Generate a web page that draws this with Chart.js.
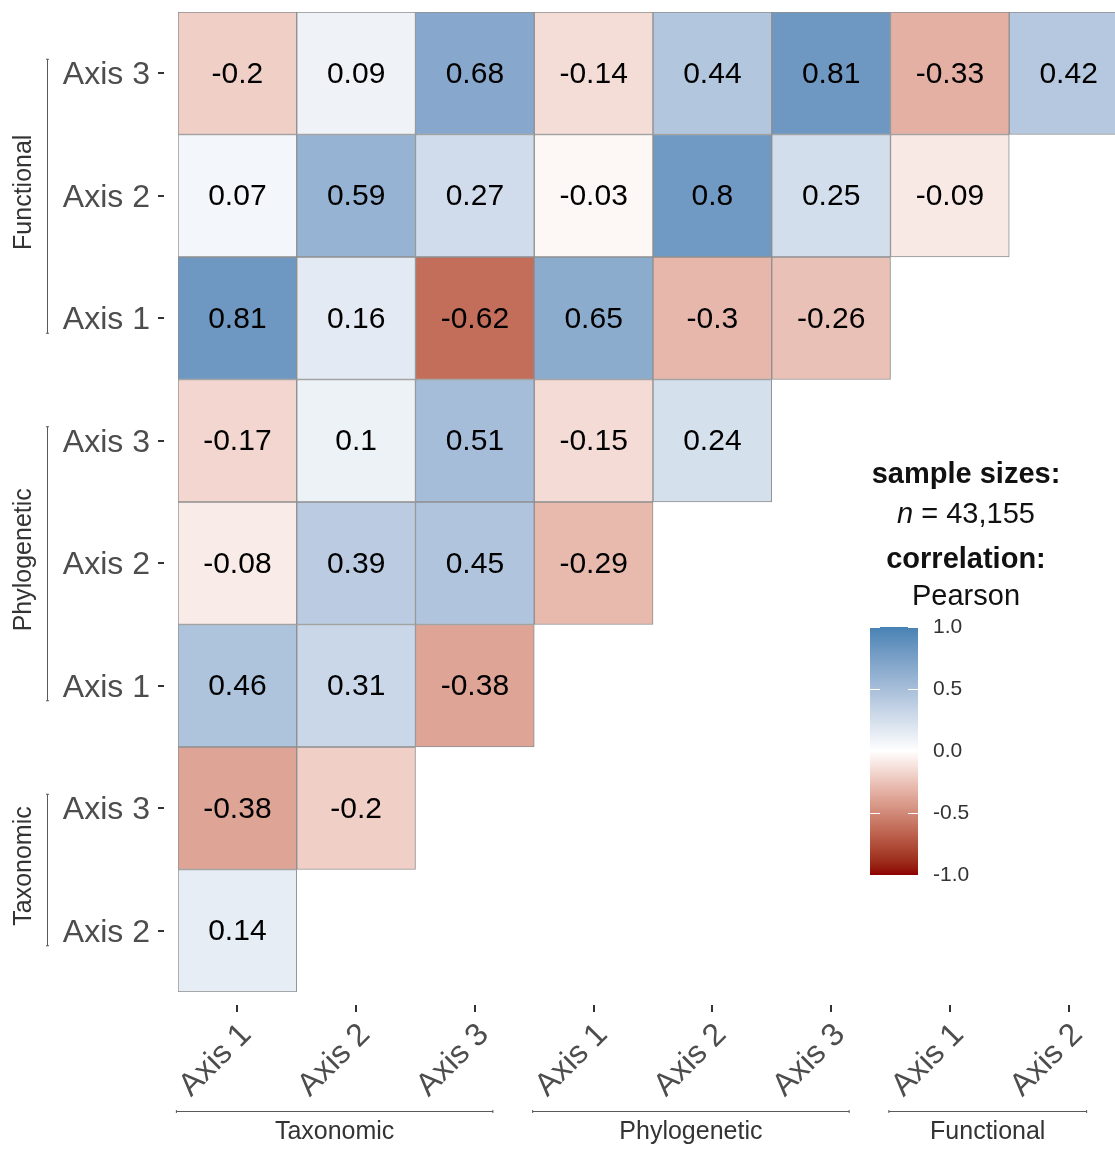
<!DOCTYPE html>
<html>
<head>
<meta charset="utf-8">
<script src="https://cdn.jsdelivr.net/npm/chart.js@4.4.1/dist/chart.umd.min.js"></script>
<style>
  html, body { margin: 0; padding: 0; background: #ffffff; overflow: hidden; }
  #wrap { position: relative; width: 1140px; height: 1152px; }
</style>
</head>
<body>
<div id="wrap"><canvas id="corr" width="1140" height="1152"></canvas></div>
<script>
// ---- data ----------------------------------------------------------------
const columnLabels = ['Axis 1', 'Axis 2', 'Axis 3', 'Axis 1', 'Axis 2', 'Axis 3', 'Axis 1', 'Axis 2'];
const columnGroup  = [0, 0, 0, 1, 1, 1, 2, 2];
// rows listed from the bottom of the plot upwards
const rowLabels = ['Axis 2', 'Axis 3', 'Axis 1', 'Axis 2', 'Axis 3', 'Axis 1', 'Axis 2', 'Axis 3'];
const rowGroup  = [0, 0, 1, 1, 1, 2, 2, 2];
const groupNames = ['Taxonomic', 'Phylogenetic', 'Functional'];

// Pearson correlations, one array per row (bottom to top), columns left to right
const taxAxis2 = [0.14];
const taxAxis3 = [-0.38, -0.2];
const phyAxis1 = [0.46, 0.31, -0.38];
const phyAxis2 = [-0.08, 0.39, 0.45, -0.29];
const phyAxis3 = [-0.17, 0.1, 0.51, -0.15, 0.24];
const funAxis1 = [0.81, 0.16, -0.62, 0.65, -0.3, -0.26];
const funAxis2 = [0.07, 0.59, 0.27, -0.03, 0.8, 0.25, -0.09];
const funAxis3 = [-0.2, 0.09, 0.68, -0.14, 0.44, 0.81, -0.33, 0.42];
const correlationRows = [taxAxis2, taxAxis3, phyAxis1, phyAxis2, phyAxis3, funAxis1, funAxis2, funAxis3];

const sampleSize = '43,155';
const correlationMethod = 'Pearson';
const colorbarTicks = [1.0, 0.5, 0.0, -0.5, -1.0];

// ---- diverging palette (Lab interpolation, darkred - white - steelblue) ----
function hexToRgb(h) {
  const n = parseInt(h.slice(1), 16);
  return [(n >> 16) & 255, (n >> 8) & 255, n & 255];
}
function toLinear(c) { c /= 255; return c <= 0.04045 ? c / 12.92 : Math.pow((c + 0.055) / 1.055, 2.4); }
function fromLinear(c) { const v = c <= 0.0031308 ? 12.92 * c : 1.055 * Math.pow(c, 1 / 2.4) - 0.055; return Math.round(Math.max(0, Math.min(1, v)) * 255); }
const XN = 0.95047, YN = 1.0, ZN = 1.08883;
function fLab(t) { return t > 0.008856 ? Math.cbrt(t) : 7.787 * t + 16 / 116; }
function fInv(t) { return t > 0.206893 ? t * t * t : (t - 16 / 116) / 7.787; }
function rgbToLab(rgb) {
  const [r, g, b] = rgb.map(toLinear);
  const x = (0.4124 * r + 0.3576 * g + 0.1805 * b) / XN;
  const y = (0.2126 * r + 0.7152 * g + 0.0722 * b) / YN;
  const z = (0.0193 * r + 0.1192 * g + 0.9505 * b) / ZN;
  const fx = fLab(x), fy = fLab(y), fz = fLab(z);
  return [116 * fy - 16, 500 * (fx - fy), 200 * (fy - fz)];
}
function labToRgb([L, a, bb]) {
  const fy = (L + 16) / 116, fx = fy + a / 500, fz = fy - bb / 200;
  const x = fInv(fx) * XN, y = fInv(fy) * YN, z = fInv(fz) * ZN;
  const r = 3.2406 * x - 1.5372 * y - 0.4986 * z;
  const g = -0.9689 * x + 1.8758 * y + 0.0415 * z;
  const b = 0.0557 * x - 0.2040 * y + 1.0570 * z;
  return [fromLinear(r), fromLinear(g), fromLinear(b)];
}
const LAB_HIGH = rgbToLab(hexToRgb('#4682B4'));
const LAB_MID  = rgbToLab(hexToRgb('#FFFFFF'));
const LAB_LOW  = rgbToLab(hexToRgb('#8B0000'));
function fillFor(v) {
  const t = Math.min(1, Math.abs(v));
  const end = v >= 0 ? LAB_HIGH : LAB_LOW;
  const lab = LAB_MID.map((m, i) => m + (end[i] - m) * t);
  const [r, g, b] = labToRgb(lab);
  return `rgb(${r},${g},${b})`;
}

// ---- datasets: one floating-bar dataset per row ----------------------------
const datasets = correlationRows.map((vals, r) => ({
  label: rowLabels[r],
  data: columnLabels.map((_, c) => (c < vals.length ? [r - 0.5, r + 0.5] : null)),
  values: vals,
  backgroundColor: columnLabels.map((_, c) => (c < vals.length ? fillFor(vals[c]) : 'rgba(0,0,0,0)')),
  borderColor: '#8f8f8f',
  borderWidth: 1,
  borderSkipped: false,
  grouped: false,
  barPercentage: 1,
  categoryPercentage: 1
}));

const FONT = "'Liberation Sans', Arial, Helvetica, sans-serif";
const AXIS_TEXT = '#4d4d4d';

// cell value labels
const cellText = {
  id: 'cellText',
  afterDatasetsDraw(chart) {
    const ctx = chart.ctx;
    ctx.save();
    ctx.font = `30px ${FONT}`;
    ctx.fillStyle = '#000000';
    ctx.textAlign = 'center';
    ctx.textBaseline = 'middle';
    chart.data.datasets.forEach((ds, i) => {
      chart.getDatasetMeta(i).data.forEach((el, c) => {
        if (c >= ds.values.length) return;
        const p = el.getCenterPoint();
        ctx.fillText(String(ds.values[c]), p.x, p.y + 1);
      });
    });
    ctx.restore();
  }
};

// tick marks, nested group brackets, legend and colour bar
const decorations = {
  id: 'decorations',
  afterDraw(chart) {
    const ctx = chart.ctx;
    const xs = chart.scales.x, ys = chart.scales.y;
    const area = chart.chartArea;
    ctx.save();

    // axis tick marks (set slightly away from the tiles)
    ctx.strokeStyle = '#333333';
    ctx.lineWidth = 2;
    rowLabels.forEach((_, i) => {
      const y = Math.round(ys.getPixelForValue(i));
      ctx.beginPath(); ctx.moveTo(area.left - 20, y); ctx.lineTo(area.left - 14, y); ctx.stroke();
    });
    columnLabels.forEach((_, i) => {
      const x = Math.round(xs.getPixelForTick(i));
      ctx.beginPath(); ctx.moveTo(x, area.bottom + 13); ctx.lineTo(x, area.bottom + 20); ctx.stroke();
    });

    // group brackets
    ctx.strokeStyle = '#595959';
    ctx.lineWidth = 1;
    ctx.fillStyle = '#333333';
    ctx.font = `25px ${FONT}`;
    ctx.textAlign = 'center';
    ctx.textBaseline = 'middle';
    groupNames.forEach((name, g) => {
      // left side
      const rows = rowGroup.map((gg, i) => (gg === g ? i : -1)).filter(i => i >= 0);
      if (rows.length) {
        const yTop = ys.getPixelForValue(Math.max(...rows)) - 14;
        const yBot = ys.getPixelForValue(Math.min(...rows)) + 15;
        const bx = 47.5;
        ctx.beginPath();
        ctx.moveTo(bx, yTop); ctx.lineTo(bx, yBot);
        ctx.moveTo(bx - 1.5, yTop); ctx.lineTo(bx + 1.5, yTop);
        ctx.moveTo(bx - 1.5, yBot); ctx.lineTo(bx + 1.5, yBot);
        ctx.stroke();
        ctx.save();
        ctx.translate(24, (yTop + yBot) / 2 - 4);
        ctx.rotate(-Math.PI / 2);
        ctx.fillText(name, 0, 0);
        ctx.restore();
      }
      // bottom side
      const cols = columnGroup.map((gg, i) => (gg === g ? i : -1)).filter(i => i >= 0);
      if (cols.length) {
        const xL = xs.getPixelForTick(Math.min(...cols)) - 61;
        const xR = xs.getPixelForTick(Math.max(...cols)) + 18;
        const by = 1111.5;
        ctx.beginPath();
        ctx.moveTo(xL, by); ctx.lineTo(xR, by);
        ctx.moveTo(xL, by - 1.5); ctx.lineTo(xL, by + 1.5);
        ctx.moveTo(xR, by - 1.5); ctx.lineTo(xR, by + 1.5);
        ctx.stroke();
        ctx.fillText(name, (xL + xR) / 2, 1132);
      }
    });

    // legend titles
    const cx = 966;
    ctx.fillStyle = '#111111';
    ctx.textAlign = 'center';
    ctx.font = `bold 29px ${FONT}`;
    ctx.fillText('sample sizes:', cx, 475);
    ctx.fillText('correlation:', cx, 560);
    ctx.font = `29px ${FONT}`;
    ctx.fillText(correlationMethod, cx, 597);
    // "n = 43,155" with an italic n
    const rest = ' = ' + sampleSize;
    ctx.font = `italic 29px ${FONT}`;
    const wN = ctx.measureText('n').width;
    ctx.font = `29px ${FONT}`;
    const wRest = ctx.measureText(rest).width;
    const startX = cx - (wN + wRest) / 2;
    ctx.textAlign = 'left';
    ctx.font = `italic 29px ${FONT}`;
    ctx.fillText('n', startX, 515);
    ctx.font = `29px ${FONT}`;
    ctx.fillText(rest, startX + wN, 515);

    // colour bar
    const barL = 870, barW = 48, barTop = 627, barBot = 875;
    const vToY = v => barTop + (1 - v) / 2 * (barBot - barTop);
    const grad = ctx.createLinearGradient(0, barTop, 0, barBot);
    for (let k = 0; k <= 40; k++) {
      const v = 1 - k / 20;
      grad.addColorStop(k / 40, fillFor(v));
    }
    ctx.fillStyle = grad;
    ctx.fillRect(barL, barTop, barW, barBot - barTop);
    ctx.strokeStyle = '#ffffff';
    ctx.lineWidth = 1;
    ctx.font = `21px ${FONT}`;
    ctx.fillStyle = '#333333';
    ctx.textAlign = 'left';
    colorbarTicks.forEach(v => {
      const y = Math.round(vToY(v)) + 0.5;
      ctx.beginPath();
      ctx.moveTo(barL, y); ctx.lineTo(barL + 10, y);
      ctx.moveTo(barL + barW - 10, y); ctx.lineTo(barL + barW, y);
      ctx.stroke();
      ctx.fillText(v.toFixed(1), barL + 63, y);
    });

    ctx.restore();
  }
};

new Chart(document.getElementById('corr'), {
  type: 'bar',
  data: { labels: columnLabels, datasets },
  plugins: [cellText, decorations],
  options: {
    responsive: false,
    animation: false,
    devicePixelRatio: 1,
    layout: { padding: { top: 12, right: 12, left: 0, bottom: 0 } },
    plugins: { legend: { display: false }, tooltip: { enabled: false } },
    scales: {
      x: {
        type: 'category',
        offset: true,
        grid: { display: false, drawTicks: false },
        border: { display: false },
        ticks: {
          autoSkip: false,
          maxRotation: 45,
          minRotation: 45,
          padding: 24,
          labelOffset: 9,
          color: AXIS_TEXT,
          font: { size: 32, family: FONT }
        },
        afterFit(scale) {
          scale.height = 160;
          scale.paddingLeft = 0;
          scale.paddingRight = 0;
        }
      },
      y: {
        type: 'linear',
        min: -0.5,
        max: 7.5,
        grid: { display: false, drawTicks: false },
        border: { display: false },
        afterBuildTicks(scale) { scale.ticks = rowLabels.map((_, i) => ({ value: i })); },
        ticks: {
          padding: 28,
          labelOffset: 2,
          color: AXIS_TEXT,
          font: { size: 32, family: FONT },
          callback: v => rowLabels[v]
        },
        afterFit(scale) {
          scale.width = 178;
          scale.paddingTop = 0;
          scale.paddingBottom = 0;
        }
      }
    }
  }
});
</script>
</body>
</html>
